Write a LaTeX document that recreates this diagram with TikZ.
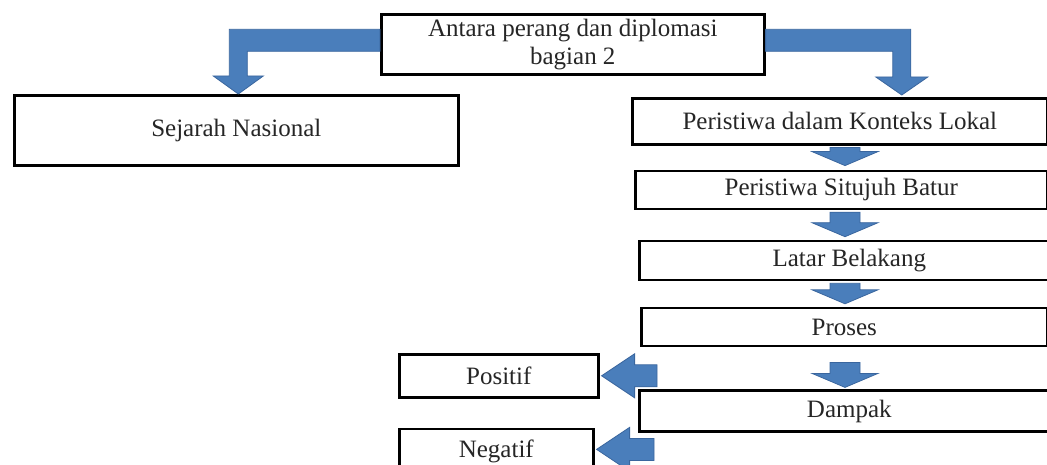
\documentclass[tikz,border=0pt]{standalone}
\usepackage{fontspec}
\setmainfont{Liberation Serif}
\usepackage{tikz}
\usetikzlibrary{calc,positioning}

\definecolor{panahbiru}{RGB}{74,126,187}
\definecolor{panahtepi}{RGB}{58,102,158}

\tikzset{kotak/.style={
    draw,
    line width=2.6pt,
    fill=white,
    inner sep=0pt,
    anchor=north west,
    text=black!85,
    font=\fontsize{25}{28}\selectfont,
}}
\tikzset{panah/.style={
    fill=panahbiru,
    draw=panahtepi,
    line width=0.8pt,
}}

% panah blok ke bawah: #1 pangkal, #2 ujung
\newcommand{\panahbawah}[2]{%
    \path[panah] let \p1=(#1), \p2=(#2) in
        (\x1-15pt,\y1) -- (\x1-15pt,\y2+14pt) -- (\x1-33pt,\y2+14pt) -- (\x2,\y2)
        -- (\x1+33pt,\y2+14pt) -- (\x1+15pt,\y2+14pt) -- (\x1+15pt,\y1) -- cycle;}
% panah blok ke kiri
\newcommand{\panahkiri}[2]{%
    \path[panah] let \p1=(#1), \p2=(#2) in
        (\x1,\y1+11pt) -- (\x2+33pt,\y1+11pt) -- (\x2+33pt,\y1+22pt) -- (\x2,\y2)
        -- (\x2+33pt,\y1-22pt) -- (\x2+33pt,\y1-11pt) -- (\x1,\y1-11pt) -- cycle;}

\begin{document}
\begin{tikzpicture}[x=1pt,y=-1pt]
    \useasboundingbox (0,0) rectangle (1047,465);

    \node[kotak, minimum width=383pt, minimum height=60pt, align=center] (atas) at (380,13) {Antara perang dan diplomasi\\bagian 2};
    \node[kotak, minimum width=444pt, minimum height=70pt] (sejarah) at (13,94) {Sejarah Nasional};

    \node[kotak, minimum width=415pt, minimum height=46pt] (lokal) at (631,97) {Peristiwa dalam Konteks Lokal};
    \node[kotak, minimum width=412pt, minimum height=38pt, below right=24pt and 3pt of lokal.south west] (situjuh) {Peristiwa Situjuh Batur};
    \node[kotak, minimum width=420pt, minimum height=39pt, below right=29.5pt and 4pt of situjuh.south west] (latar) {Latar Belakang};
    \node[kotak, minimum width=406pt, minimum height=38pt, below right=25.5pt and 2pt of latar.south west] (proses) {Proses};
    \node[kotak, minimum width=420pt, minimum height=41pt, below right=42pt and -2pt of proses.south west] (dampak) {Dampak};

    \node[kotak, minimum width=199pt, minimum height=43pt] (positif) at (398,353) {Positif};
    \node[kotak, minimum width=194pt, minimum height=45pt, below right=29pt and 0pt of positif.south west] (negatif) {Negatif};

    \coordinate (ax) at (845,0);

    % panah siku dari kotak atas
    \path[panah] let \p1=($(atas.west)+(0,-4)$), \p2=($(sejarah.north)+(2,0)$) in
        (\x1,\y1+11pt) -| (\x2-9pt,\y2+18pt) -- (\x2-25pt,\y2+18pt) -- (\x2,\y2)
        -- (\x2+25pt,\y2+18pt) -- (\x2+9pt,\y2+18pt) |- (\x1,\y1-11pt) -- cycle;
    \path[panah] let \p1=($(atas.east)+(0,-4)$), \p2=($(lokal.north)+(62,-2)$) in
        (\x1,\y1+11pt) -| (\x2+9pt,\y2+18pt) -- (\x2+26pt,\y2+18pt) -- (\x2,\y2)
        -- (\x2-26pt,\y2+18pt) -- (\x2-9pt,\y2+18pt) |- (\x1,\y1-11pt) -- cycle;

    \panahbawah{$(lokal.south -| ax)+(0,2)$}{$(situjuh.north -| ax)+(0,-4)$}
    \panahbawah{$(situjuh.south -| ax)+(0,2)$}{$(latar.north -| ax)+(0,-3)$}
    \panahbawah{$(latar.south -| ax)+(0,2)$}{$(proses.north -| ax)+(0,-3)$}
    \panahbawah{$(proses.south -| ax)+(0,15)$}{$(dampak.north -| ax)+(0,-2)$}

    \panahkiri{$(dampak.west |- positif.east)+(19,0)$}{$(positif.east)+(2,0)$}
    \panahkiri{$(dampak.west |- negatif.east)+(16,-2)$}{$(negatif.east)+(2,-2)$}
\end{tikzpicture}
\end{document}
